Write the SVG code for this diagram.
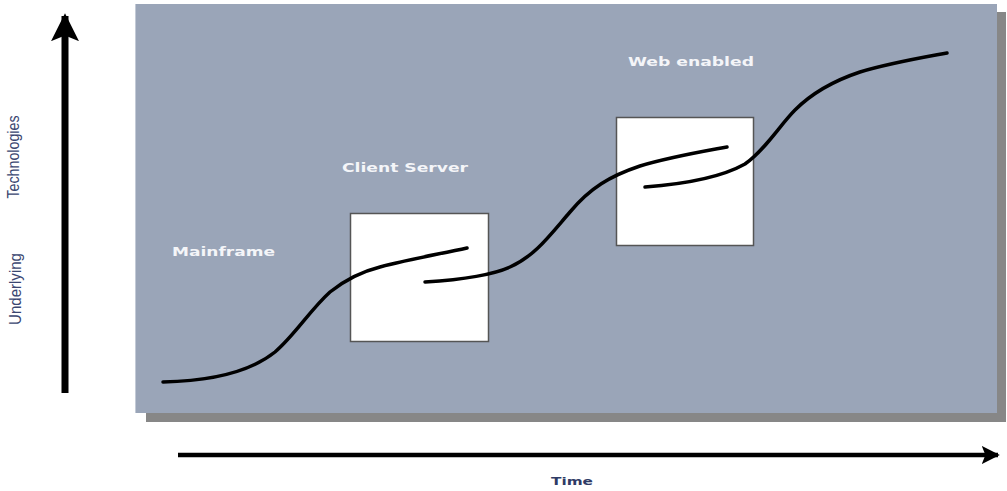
<svg xmlns="http://www.w3.org/2000/svg" width="1007" height="491" viewBox="0 0 1007 491">
<style>
.lbl{font-family:"DejaVu Sans",Verdana,sans-serif;font-weight:bold;font-size:12px;fill:#f4f5f8}
.axis{font-family:"Liberation Sans",Arial,sans-serif;font-size:16px;fill:#3a4670}
.curve{fill:none;stroke:#000;stroke-width:3.5;stroke-linecap:round}
.box{fill:#fff;stroke:#555;stroke-width:1.5}
</style>
<defs>
<marker id="ah" viewBox="0 0 10 10" refX="9" refY="5" markerWidth="4" markerHeight="4" orient="auto" markerUnits="strokeWidth">
<path d="M0,0 L10,5 L0,10 L2,5 Z" fill="#000"/>
</marker>
</defs>
<g id="panel">
<rect x="146" y="12" width="860" height="410" fill="#878787"/>
<rect x="135" y="4" width="862" height="409" fill="#9aa5b8"/>
<line x1="135.5" y1="4" x2="135.5" y2="413" stroke="#c3cad6" stroke-width="1"/>
</g>
<g id="box-client-server"><rect class="box" x="350.5" y="213.5" width="138" height="128"/></g>
<g id="box-web-enabled"><rect class="box" x="616.5" y="117.5" width="137" height="128"/></g>
<g id="label-mainframe"><text class="lbl" x="172" y="256" textLength="103" lengthAdjust="spacingAndGlyphs">Mainframe</text></g>
<g id="label-client-server"><text class="lbl" x="342" y="172" textLength="126" lengthAdjust="spacingAndGlyphs">Client Server</text></g>
<g id="label-web-enabled"><text class="lbl" x="628" y="66" textLength="126" lengthAdjust="spacingAndGlyphs">Web enabled</text></g>
<g id="connectors">
<path class="curve" d="M163,382 C210,381 250,372 275,352 C295,335 310,310 330,292 C345,280 360,272 380,267 C410,259 440,254 467,248"/>
<path class="curve" d="M425,282 C455,280 490,276 510,267 C535,256 550,235 570,212 C590,188 610,176 640,166 C670,157 700,152 727,147"/>
<path class="curve" d="M645,187 C685,184 720,178 745,164 C765,150 780,125 795,110 C810,95 830,82 860,72 C890,63 920,58 947,53"/>
<line x1="65" y1="393" x2="65" y2="16" stroke="#000" stroke-width="7" marker-end="url(#ah)"/>
<line x1="178" y1="455" x2="998" y2="455" stroke="#000" stroke-width="4.5" marker-end="url(#ah)"/>
</g>
<g id="axis-labels">
<text class="axis" transform="translate(19,157) rotate(-90)" text-anchor="middle" textLength="83" lengthAdjust="spacingAndGlyphs">Technologies</text>
<text class="axis" transform="translate(21,289) rotate(-90)" text-anchor="middle" textLength="72" lengthAdjust="spacingAndGlyphs">Underlying</text>
<text x="572" y="485" text-anchor="middle" font-family="DejaVu Sans,Verdana,sans-serif" font-weight="bold" font-size="11" fill="#2f3b66" textLength="42" lengthAdjust="spacingAndGlyphs">Time</text>
</g>
</svg>
